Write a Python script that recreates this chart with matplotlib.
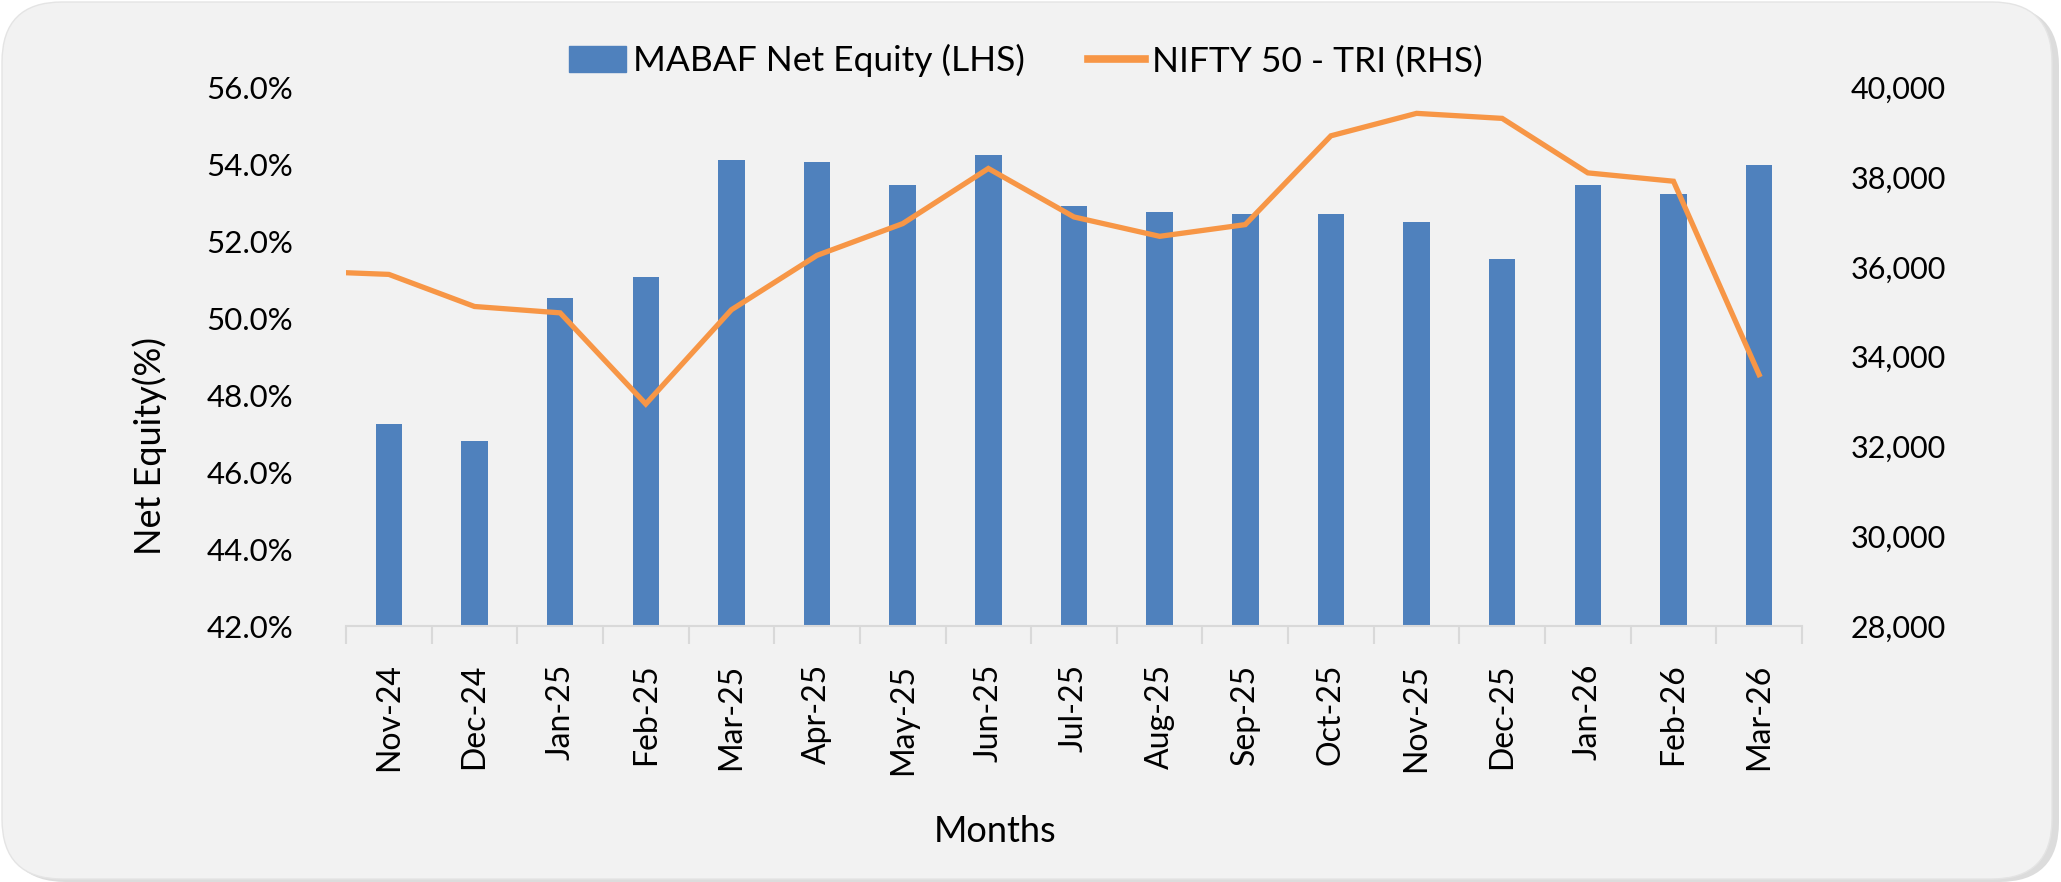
import numpy as np
import matplotlib
matplotlib.use("Agg")
import matplotlib.pyplot as plt
import matplotlib.patches as mpatches
from matplotlib.transforms import IdentityTransform
from matplotlib.ticker import FuncFormatter, MultipleLocator, FixedLocator

plt.rcParams['font.family'] = ['Lato', 'DejaVu Sans']

months = ['Nov-24', 'Dec-24', 'Jan-25', 'Feb-25', 'Mar-25', 'Apr-25', 'May-25', 'Jun-25',
          'Jul-25', 'Aug-25', 'Sep-25', 'Oct-25', 'Nov-25', 'Dec-25', 'Jan-26', 'Feb-26', 'Mar-26']
net_equity = [47.26, 46.80, 50.53, 51.06, 54.11, 54.06, 53.46, 54.25, 52.91,
              52.77, 52.72, 52.72, 52.49, 51.53, 53.46, 53.23, 53.97]
# first value sits on the left edge of the axis, the rest on the months
nifty_start = 35870
nifty_tri = [35833, 35118, 34976, 32946, 35045, 36257, 36964, 38192, 37112,
             36681, 36942, 38920, 39420, 39308, 38094, 37908, 33600]

bar_color = '#4F81BD'
line_color = '#F79646'

fig = plt.figure(figsize=(20.61, 8.82), dpi=100)
fig.patch.set_facecolor('white')

# rounded panel behind the chart, with a soft shadow on the right/bottom
shadow = mpatches.FancyBboxPatch((6, 0), 2053, 876, boxstyle="round,pad=0,rounding_size=60",
                                 transform=IdentityTransform(), facecolor='#DCDCDC',
                                 edgecolor='none', zorder=-3)
panel = mpatches.FancyBboxPatch((2, 3), 2050, 877, boxstyle="round,pad=0,rounding_size=60",
                                transform=IdentityTransform(), facecolor='#F2F2F2',
                                edgecolor='#E4E4E4', linewidth=1, zorder=-2)
fig.patches.append(shadow)
fig.patches.append(panel)

ax = fig.add_axes([0.1679, 0.2902, 0.8743 - 0.1679, 0.9010 - 0.2902])
ax.set_facecolor('none')
x = np.arange(len(months))
ax.bar(x, net_equity, width=0.31, color=bar_color, zorder=2)
ax.set_ylim(42, 56)
ax.set_xlim(-0.5, len(months) - 0.5)
ax.yaxis.set_major_locator(MultipleLocator(2))
ax.yaxis.set_major_formatter(FuncFormatter(lambda v, p: f'{v:.1f}%'))
ax.set_xticks(x)
ax.set_xticklabels(months, rotation=90, fontsize=23)
ax.xaxis.set_minor_locator(FixedLocator(np.arange(-0.5, len(months), 1.0)))
ax.tick_params(axis='x', which='major', length=0, pad=27)
ax.tick_params(axis='x', which='minor', length=13, width=1.5, color='#D9D9D9')
ax.tick_params(axis='y', length=0, labelsize=22.5, pad=38)
for s in ['left', 'right', 'top']:
    ax.spines[s].set_visible(False)
ax.spines['bottom'].set_color('#D9D9D9')
ax.spines['bottom'].set_linewidth(1.5)

ax2 = ax.twinx()
line_x = np.r_[x[0] - 0.5, x]
line_y = [nifty_start] + nifty_tri
ax2.plot(line_x, line_y, color=line_color, linewidth=3.8, solid_joinstyle='miter', zorder=3)
ax2.set_ylim(28000, 40000)
ax2.yaxis.set_major_locator(MultipleLocator(2000))
ax2.yaxis.set_major_formatter(FuncFormatter(lambda v, p: f'{v:,.0f}'))
ax2.tick_params(axis='y', length=0, labelsize=22, pad=35)
for s in ['left', 'right', 'top', 'bottom']:
    ax2.spines[s].set_visible(False)

handles = [mpatches.Patch(color=bar_color, label='MABAF Net Equity (LHS)'),
           plt.Line2D([], [], color=line_color, linewidth=5.5, label='NIFTY 50 - TRI (RHS)')]
fig.legend(handles=handles, loc='center', bbox_to_anchor=(0.4977, 0.931), ncol=2,
           frameon=False, fontsize=25.5, handlelength=1.6, handleheight=0.72,
           handletextpad=0.2, columnspacing=1.8)

fig.text(0.4828, 1 - 832 / 882, 'Months', fontsize=26, ha='center', va='center')
fig.text(150 / 2061, 1 - 446 / 882, 'Net Equity(%)', fontsize=26, ha='center', va='center',
         rotation=90)

fig.savefig('out.png', dpi=100)
